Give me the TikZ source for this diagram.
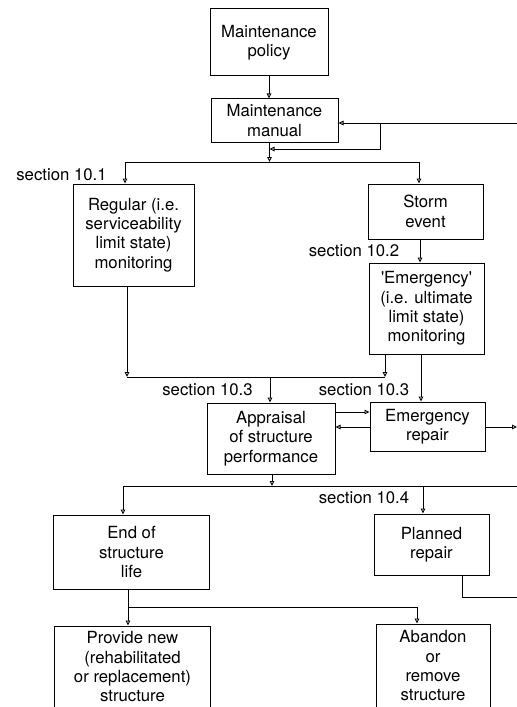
\documentclass[tikz,border=0pt]{standalone}
\usepackage{fontspec}
\setmainfont{TeX Gyre Heros}
\usetikzlibrary{arrows.meta}
\begin{document}
\begin{tikzpicture}[x=1bp,y=-1bp,
  box/.style={draw, line width=1bp, align=center, inner sep=0pt,
    font=\fontsize{16.8}{19.4}\selectfont},
  lbl/.style={inner sep=0pt, font=\fontsize{16.8}{19.4}\selectfont},
  link/.style={line width=0.9bp},
  flow/.style={link, -{Triangle[open,length=5bp,width=4.5bp]}}]
\useasboundingbox (0,0) rectangle (517,707);
\clip (0,0) rectangle (517,707);

% boxes
\node[box, minimum width=118bp, minimum height=67bp] (policy) at (269,42.5) {Maintenance\\policy};
\node[box, minimum width=127bp, minimum height=43bp] (manual) at (274.5,120.5) {Maintenance\\manual};
\node[box, minimum width=121bp, minimum height=102bp] (regular) at (133.5,235) {Regular (i.e.\\serviceability\\limit state)\\monitoring};
\node[box, minimum width=115bp, minimum height=55bp] (storm) at (425.5,211.5) {Storm\\event};
\node[box, minimum width=115bp, minimum height=91bp] (emerg) at (426.5,308.5) {\textquotesingle Emergency\textquotesingle\\(i.e. ultimate\\limit state)\\monitoring};
\node[box, minimum width=128bp, minimum height=71bp] (appraisal) at (271,438.5) {Appraisal\\of structure\\performance};
\node[box, minimum width=115bp, minimum height=49bp] (erepair) at (427.5,426.5) {Emergency\\repair};
\node[box, minimum width=155bp, minimum height=74bp] (endlife) at (131.5,552) {End of\\structure\\life};
\node[box, minimum width=115bp, minimum height=61bp] (planned) at (431.5,544.5) {Planned\\repair};
\node[box, minimum width=155bp, minimum height=82bp] (provide) at (132.5,667) {Provide new\\(rehabilitated\\or replacement)\\structure};
\node[box, minimum width=114bp, minimum height=84bp] (abandon) at (433,666) {Abandon\\or\\remove\\structure};

% section labels
\node[lbl] (s101) at (61.5,175) {section 10.1};
\node[lbl] (s102) at (354,251) {section 10.2};
\node[lbl] (s103a) at (207.5,390) {section 10.3};
\node[lbl] (s103b) at (364,390) {section 10.3};
\node[lbl] (s104) at (364,498) {section 10.4};

% junction points
\coordinate (fbin) at (517,123);
\coordinate (fbsplit) at (380,123);
\coordinate (fbjoin) at (380,149);
\coordinate (stem1) at (269.5,162);
\coordinate (bus1L) at (125,162);
\coordinate (bus1R) at (419,162);
\coordinate (sx) at (420,250);
\coordinate (bus2L) at (127,377);
\coordinate (bus2R) at (385,377);
\coordinate (bus2M) at (270,377);
\coordinate (ex) at (421,380);
\coordinate (ya) at (350,412);
\coordinate (yb) at (350,427);
\coordinate (rout) at (517,427);
\coordinate (bus3M) at (272,486);
\coordinate (bus3L) at (123,486);
\coordinate (bus3P) at (423,486);
\coordinate (bus3R) at (517,486);
\coordinate (pturn) at (462,597);
\coordinate (pout) at (517,597);
\coordinate (bus4L) at (128,607);
\coordinate (bus4R) at (417,607);

% connectors
\draw[flow] (policy.south) -- (policy.south |- manual.north);
\draw[flow] (fbin) -- (fbin -| manual.east);
\draw[flow] (fbsplit) -- (fbjoin) -- (fbjoin -| stem1);
\draw[flow] (manual.south -| stem1) -- (stem1);
\draw[link] (bus1L) -- (bus1R);
\draw[flow] (bus1L) -- (bus1L |- regular.north);
\draw[flow] (bus1R) -- (bus1R |- storm.north);
\draw[flow] (storm.south -| sx) -- (emerg.north -| sx);

\draw[flow] (regular.south -| bus2L) -- (bus2L);
\draw[flow] (emerg.south -| bus2R) -- (bus2R);
\draw[link] (bus2L) -- (bus2R);
\draw[flow] (bus2M) -- (appraisal.north -| bus2M);
\draw[flow] (emerg.south -| ex) -- (erepair.north -| ex);

\draw[flow] (appraisal.east |- ya) -- (erepair.west |- ya);
\draw[flow] (erepair.west |- yb) -- (appraisal.east |- yb);
\draw[flow] (erepair.east |- rout) -- (rout);

\draw[flow] (appraisal.south -| bus3M) -- (bus3M);
\draw[link] (bus3L) -- (bus3R);
\draw[flow] (bus3L) -- (bus3L |- endlife.north);
\draw[flow] (bus3P) -- (bus3P |- planned.north);
\draw[link] (planned.south -| pturn) -- (pturn) -- (pout);

\draw[link] (endlife.south -| bus4L) -- (bus4L) -- (bus4R);
\draw[flow] (bus4L) -- (bus4L |- provide.north);
\draw[flow] (bus4R) -- (bus4R |- abandon.north);
\end{tikzpicture}
\end{document}
